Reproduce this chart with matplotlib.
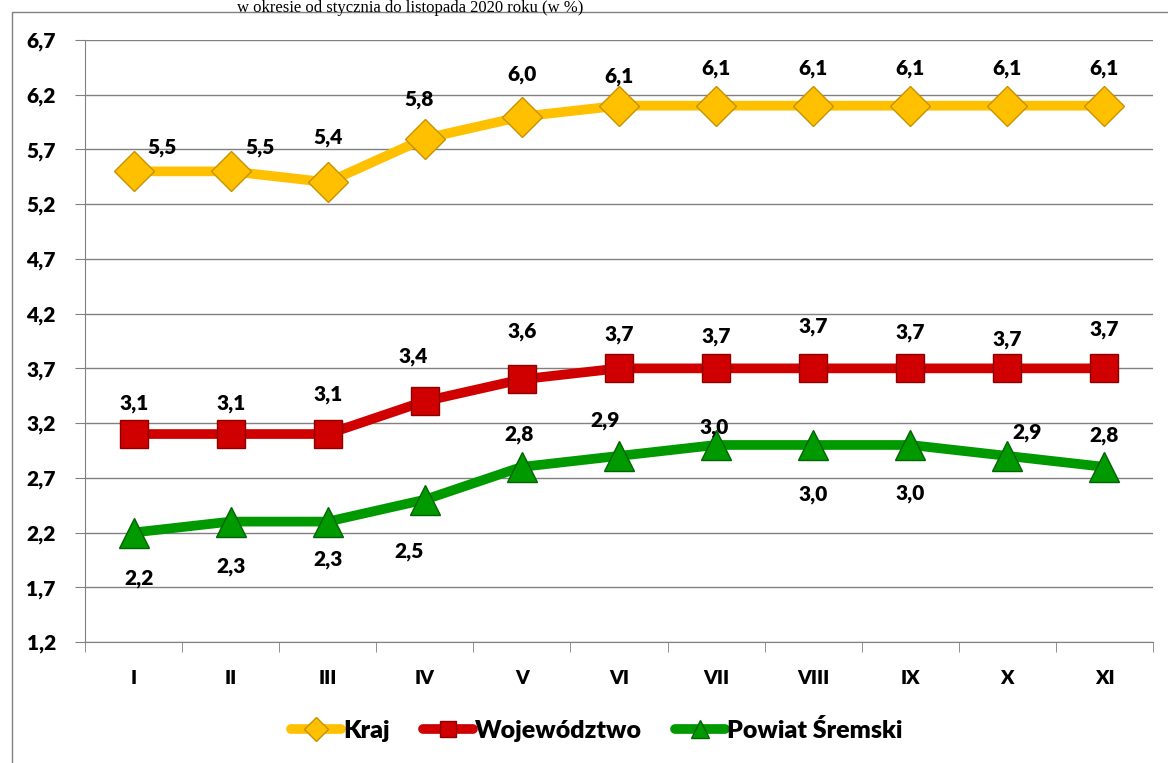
import matplotlib.pyplot as plt
from matplotlib.patches import Rectangle

plt.rcParams["font.family"] = ["Lato", "DejaVu Sans"]

months = ["I", "II", "III", "IV", "V", "VI", "VII", "VIII", "IX", "X", "XI"]
kraj = [5.5, 5.5, 5.4, 5.8, 6.0, 6.1, 6.1, 6.1, 6.1, 6.1, 6.1]
wojewodztwo = [3.1, 3.1, 3.1, 3.4, 3.6, 3.7, 3.7, 3.7, 3.7, 3.7, 3.7]
powiat = [2.2, 2.3, 2.3, 2.5, 2.8, 2.9, 3.0, 3.0, 3.0, 2.9, 2.8]
yticks = [1.2, 1.7, 2.2, 2.7, 3.2, 3.7, 4.2, 4.7, 5.2, 5.7, 6.2, 6.7]

# label offsets in pixels (dx, dy)
off_kraj = [(29, 24), (29, 24), (0, 45), (-6, 39), (0, 42), (0, 29),
            (0, 37), (0, 37), (0, 37), (0, 37), (0, 37)]
off_woj = [(1, 31), (0, 31), (0, 40), (-12, 45), (0, 48), (0, 34),
           (0, 32), (0, 42), (0, 36), (0, 29), (0, 39)]
off_pow = [(6, -46), (0, -45), (0, -38), (-16, -52), (-3, 32), (-14, 35),
           (-2, 17), (0, -50), (0, -49), (20, 23), (0, 31)]

fig = plt.figure(figsize=(11.68, 7.63), dpi=100)
fig.patches.append(Rectangle((12 / 1168, -0.1), 1.2, 1 - 12 / 763 + 0.1,
                             transform=fig.transFigure, fill=False,
                             edgecolor="#808080", lw=1))
fig.text(410 / 1168, 1.0, "w okresie od stycznia do listopada 2020 roku (w %)",
         ha="center", va="top", fontsize=12, family="Liberation Serif")

ax = fig.add_axes([85 / 1168, 1 - 642 / 763, (1153 - 85) / 1168, (642 - 40) / 763])
x = list(range(len(months)))

series = [
    (kraj, "#FFC000", "D", 20, "#C79200", "Kraj", off_kraj),
    (wojewodztwo, "#D00000", "s", 20, "#8B0000", "Województwo", off_woj),
    (powiat, "#009900", "^", 22, "#006400", "Powiat Śremski", off_pow),
]
for vals, col, mk, ms, ec, lab, offs in series:
    ax.plot(x, vals, color=col, lw=7, marker=mk, markersize=ms,
            markerfacecolor=col, markeredgecolor=ec, markeredgewidth=1,
            label=lab, solid_capstyle="round", zorder=3)
    for xi, v, (dx, dy) in zip(x, vals, offs):
        ax.annotate(f"{v:.1f}".replace(".", ","), (xi, v), xytext=(dx, dy),
                    textcoords="offset pixels", ha="center", va="center",
                    fontsize=15, fontweight="heavy", zorder=4)

ax.set_xlim(-0.5, 10.5)
ax.set_ylim(1.2, 6.7)
ax.set_yticks(yticks)
ax.set_yticklabels([f"{t:.1f}".replace(".", ",") for t in yticks],
                   fontsize=15, fontweight="heavy")
ax.set_xticks(x)
ax.set_xticklabels(months, fontsize=14, fontweight="heavy")
ax.set_xticks([i - 0.5 for i in range(12)], minor=True)
ax.tick_params(axis="x", which="major", length=0, pad=20)
ax.tick_params(axis="x", which="minor", length=7, color="#808080")
ax.tick_params(axis="y", length=7, color="#808080", pad=14)
ax.grid(axis="y", color="#808080", lw=1)
ax.set_axisbelow(True)
for s in ["top", "right"]:
    ax.spines[s].set_visible(False)
for s in ["left", "bottom"]:
    ax.spines[s].set_color("#808080")

leg = ax.legend(loc="center", bbox_to_anchor=(597 / 1168, 1 - 730 / 763),
                bbox_transform=fig.transFigure, ncol=3, frameon=False,
                prop={"size": 18, "weight": "heavy"}, handlelength=2.0,
                handletextpad=0.1, columnspacing=1.3, markerscale=0.6)

fig.savefig("out.png", dpi=100)
